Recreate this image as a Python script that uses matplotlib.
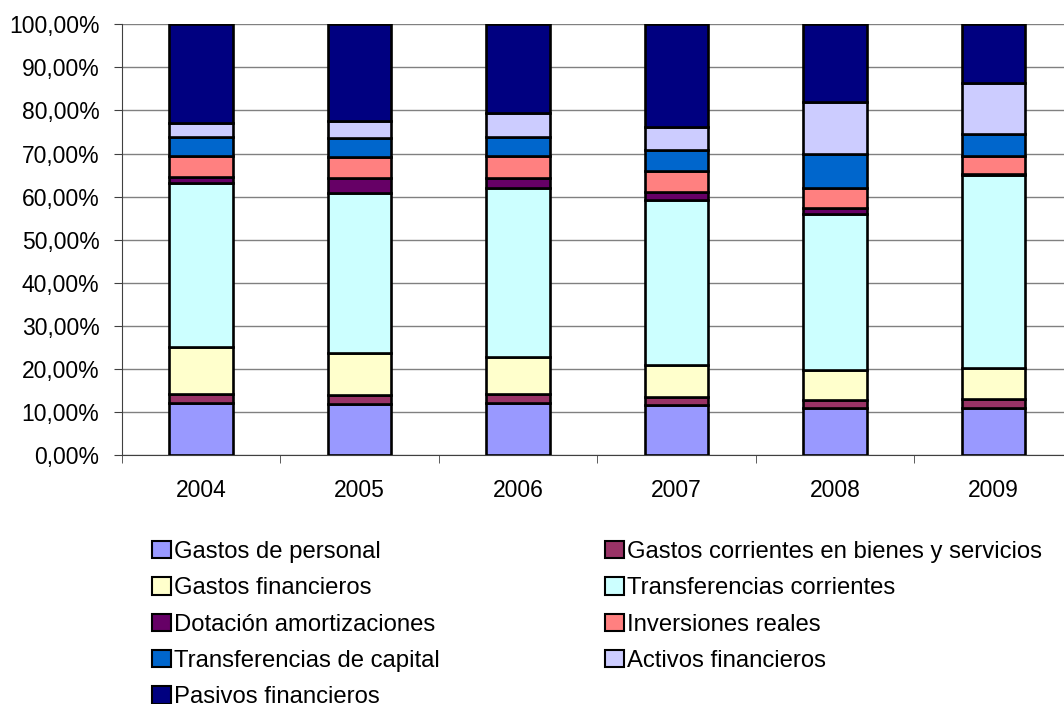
import numpy as np
import matplotlib
matplotlib.use('Agg')
import matplotlib.pyplot as plt
from matplotlib.patches import Patch
from matplotlib.ticker import FuncFormatter, FixedLocator

plt.rcParams['font.family'] = ['Liberation Sans', 'DejaVu Sans']

years = ['2004', '2005', '2006', '2007', '2008', '2009']

series = [
    'Gastos de personal',
    'Gastos corrientes en bienes y servicios',
    'Gastos financieros',
    'Transferencias corrientes',
    'Dotación amortizaciones',
    'Inversiones reales',
    'Transferencias de capital',
    'Activos financieros',
    'Pasivos financieros',
]

# percentages per year
personal      = [12.0, 11.8, 12.0, 11.5, 10.8, 10.8]
corrientes    = [2.2, 2.1, 2.2, 2.0, 2.0, 2.1]
financieros   = [10.8, 9.7, 8.6, 7.4, 6.9, 7.4]
transf_corr   = [38.2, 37.3, 39.1, 38.3, 36.2, 44.7]
dotacion      = [1.5, 3.3, 2.5, 1.8, 1.4, 0.2]
inversiones   = [4.7, 5.1, 5.1, 5.0, 4.6, 4.3]
transf_cap    = [4.5, 4.2, 4.4, 4.8, 7.9, 5.0]
activos       = [3.2, 4.0, 5.4, 5.4, 12.2, 11.8]
pasivos       = [23.0, 22.5, 20.7, 23.8, 18.0, 13.7]

colors = ['#9999FF', '#993366', '#FFFFCC', '#CCFFFF', '#660066',
          '#FF8080', '#0066CC', '#CCCCFF', '#000080']

data = np.array([personal, corrientes, financieros, transf_corr, dotacion,
                 inversiones, transf_cap, activos, pasivos])
data = data / data.sum(axis=0) * 100

fig = plt.figure(figsize=(10.64, 7.04), dpi=100)
W, H = 1064, 704
ax = fig.add_axes([121.7 / W, (H - 455) / H, (1073 - 121.7) / W, (455 - 24.3) / H])

x = np.arange(len(years))
bottom = np.zeros(len(years))
handles = []
for vals, name, c in zip(data, series, colors):
    ax.bar(x, vals, width=0.4, bottom=bottom, color=c, edgecolor='black',
           linewidth=1.9, zorder=3)
    bottom += vals
    handles.append(Patch(facecolor=c, edgecolor='black', linewidth=1.5, label=name))

ax.set_xlim(-0.5, len(years) - 0.5)
ax.set_ylim(0, 100)
ax.set_yticks(np.arange(0, 101, 10))
ax.yaxis.set_major_formatter(FuncFormatter(lambda v, p: ('%.2f%%' % v).replace('.', ',')))
ax.yaxis.grid(True, color='#808080', linewidth=1.0, zorder=0)
ax.set_axisbelow(True)

ax.set_xticks(x)
ax.set_xticklabels(years)
ax.xaxis.set_minor_locator(FixedLocator(np.arange(-0.5, len(years), 1)))
ax.tick_params(axis='x', which='major', length=0, pad=17, labelsize=16.5)
ax.tick_params(axis='x', which='minor', length=6, color='#404040', direction='out')
ax.tick_params(axis='y', length=6, color='#404040', pad=10, labelsize=16.5)

for s in ['top', 'right']:
    ax.spines[s].set_visible(False)
ax.spines['left'].set_color('#404040')
ax.spines['bottom'].set_color('#404040')

col1 = [handles[i] for i in (0, 2, 4, 6, 8)]
col2 = [handles[i] for i in (1, 3, 5, 7)]
leg_kw = dict(frameon=False, fontsize=17.2, handlelength=0.8, handleheight=0.72,
              handletextpad=0.12, labelspacing=0.6, borderpad=0, borderaxespad=0,
              loc='upper left')
fig.legend(handles=col1, bbox_to_anchor=(152 / W, (H - 541) / H), **leg_kw)
fig.legend(handles=col2, bbox_to_anchor=(605 / W, (H - 541) / H), **leg_kw)

fig.savefig('out.png', dpi=100)
